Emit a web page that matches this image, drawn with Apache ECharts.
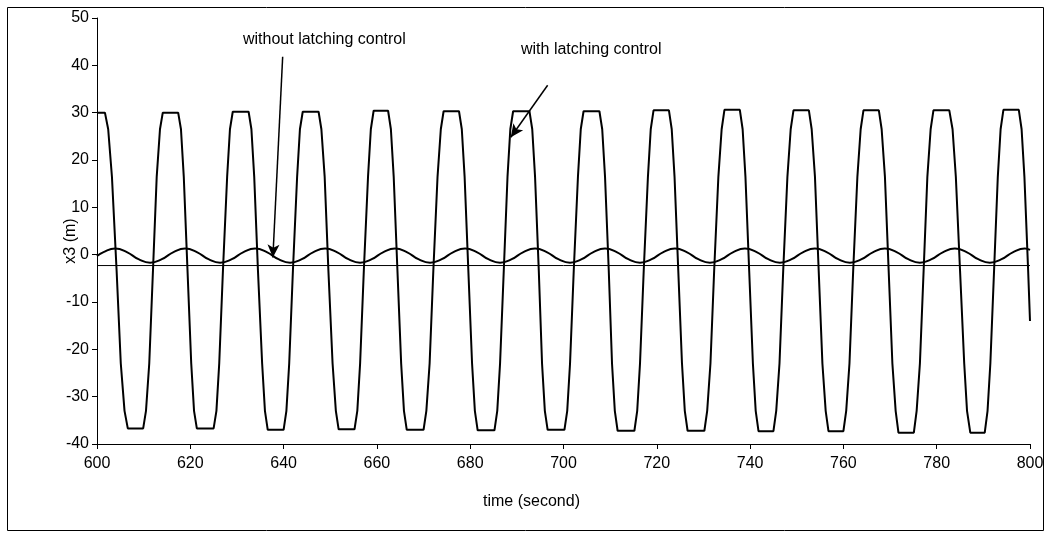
<!DOCTYPE html>
<html>
<head>
<meta charset="utf-8">
<script src="https://cdn.jsdelivr.net/npm/echarts@6/dist/echarts.min.js"></script>
<style>
html,body{margin:0;padding:0;background:#fff;}
#chart{width:1047px;height:535px;}
</style>
</head>
<body>
<div id="chart"></div>
<script>
// x-axis (time, s) and y-axis (x3, m) ranges / ticks
const xTicks = [600, 620, 640, 660, 680, 700, 720, 740, 760, 780, 800];
const yTicks = [-40, -30, -20, -10, 0, 10, 20, 30, 40, 50];

// with latching control: [time, x3]
const withLatching = [
  [600,30],[601.7,30],
  [602.4,26.5],[603.2,16.5],[604.2,-3.3],[605.1,-23],[605.9,-33],
  [606.6,-36.7],[609.9,-36.7],
  [610.5,-33],[611.2,-23],[612.0,-3.3],[612.8,16.5],[613.5,26.5],
  [614.1,30],[617.4,30],
  [618.0,26.5],[618.6,16.5],[619.4,-3.3],[620.2,-23],[620.8,-33],
  [621.4,-36.7],[625.0,-36.7],
  [625.6,-33],[626.2,-23],[627.0,-3.3],[627.9,16.5],[628.5,26.5],
  [629.1,30.2],[632.5,30.2],
  [633.1,26.5],[633.7,16.5],[634.5,-3.3],[635.4,-23],[636.0,-33],
  [636.6,-37.0],[640.0,-37.0],
  [640.6,-33],[641.2,-23],[642.0,-3.3],[642.9,16.5],[643.5,26.5],
  [644.1,30.2],[647.5,30.2],
  [648.1,26.5],[648.8,16.5],[649.6,-3.3],[650.5,-23],[651.2,-33],
  [651.8,-36.9],[655.2,-36.9],
  [655.8,-33],[656.4,-23],[657.2,-3.3],[658.1,16.5],[658.7,26.5],
  [659.3,30.4],[662.4,30.4],
  [663.0,26.5],[663.6,16.5],[664.4,-3.3],[665.2,-23],[665.8,-33],
  [666.4,-37.0],[670.0,-37.0],
  [670.6,-33],[671.3,-23],[672.1,-3.3],[673.0,16.5],[673.7,26.5],
  [674.3,30.3],[677.6,30.3],
  [678.2,26.5],[678.8,16.5],[679.6,-3.3],[680.4,-23],[681.0,-33],
  [681.6,-37.1],[685.2,-37.1],
  [685.8,-33],[686.4,-23],[687.2,-3.3],[688.0,16.5],[688.6,26.5],
  [689.2,30.3],[692.7,30.3],
  [693.3,26.5],[693.9,16.5],[694.7,-3.3],[695.4,-23],[696.0,-33],
  [696.6,-37.0],[700.2,-37.0],
  [700.8,-33],[701.4,-23],[702.2,-3.3],[703.1,16.5],[703.7,26.5],
  [704.3,30.3],[707.7,30.3],
  [708.3,26.5],[708.9,16.5],[709.7,-3.3],[710.4,-23],[711.0,-33],
  [711.6,-37.2],[715.2,-37.2],
  [715.8,-33],[716.4,-23],[717.2,-3.3],[718.1,16.5],[718.7,26.5],
  [719.3,30.5],[722.6,30.5],
  [723.2,26.5],[723.8,16.5],[724.6,-3.3],[725.4,-23],[726.0,-33],
  [726.6,-37.2],[730.2,-37.2],
  [730.8,-33],[731.5,-23],[732.3,-3.3],[733.2,16.5],[733.9,26.5],
  [734.5,30.6],[737.8,30.6],
  [738.4,26.5],[739.0,16.5],[739.8,-3.3],[740.6,-23],[741.2,-33],
  [741.8,-37.3],[745.0,-37.3],
  [745.6,-33],[746.3,-23],[747.1,-3.3],[748.0,16.5],[748.7,26.5],
  [749.3,30.5],[752.6,30.5],
  [753.2,26.5],[753.9,16.5],[754.7,-3.3],[755.5,-23],[756.2,-33],
  [756.8,-37.3],[760.0,-37.3],
  [760.6,-33],[761.3,-23],[762.1,-3.3],[763.0,16.5],[763.7,26.5],
  [764.3,30.5],[767.6,30.5],
  [768.2,26.5],[768.9,16.5],[769.7,-3.3],[770.5,-23],[771.2,-33],
  [771.8,-37.6],[775.1,-37.6],
  [775.7,-33],[776.4,-23],[777.2,-3.3],[778.0,16.5],[778.7,26.5],
  [779.3,30.5],[782.7,30.5],
  [783.4,26.5],[784.1,16.5],[785.0,-3.3],[785.9,-23],[786.5,-33],
  [787.2,-37.6],[790.3,-37.6],
  [790.9,-33],[791.5,-23],[792.3,-3.3],[793.1,16.5],[793.7,26.5],
  [794.3,30.6],[797.6,30.6],
  [798.2,26.5],[798.8,16.5],[799.6,-3.3],[800,-14]
];

// without latching control: [time, x3]
const withoutLatching = [
  [600,-0.3],[601.4,0.55],
  [603.9,1.3],[606.4,0.55],[608.9,-0.95],[611.4,-1.7],[613.9,-0.95],[616.4,0.55],
  [618.9,1.3],[621.4,0.55],[623.9,-0.95],[626.4,-1.7],[628.9,-0.95],[631.4,0.55],
  [633.9,1.3],[636.4,0.55],[638.9,-0.95],[641.4,-1.7],[643.9,-0.95],[646.4,0.55],
  [648.9,1.3],[651.4,0.55],[653.9,-0.95],[656.4,-1.7],[658.9,-0.95],[661.4,0.55],
  [663.9,1.3],[666.4,0.55],[668.9,-0.95],[671.4,-1.7],[673.9,-0.95],[676.4,0.55],
  [678.9,1.3],[681.4,0.55],[683.9,-0.95],[686.4,-1.7],[688.9,-0.95],[691.4,0.55],
  [693.9,1.3],[696.4,0.55],[698.9,-0.95],[701.4,-1.7],[703.9,-0.95],[706.4,0.55],
  [708.9,1.3],[711.4,0.55],[713.9,-0.95],[716.4,-1.7],[718.9,-0.95],[721.4,0.55],
  [723.9,1.3],[726.4,0.55],[728.9,-0.95],[731.4,-1.7],[733.9,-0.95],[736.4,0.55],
  [738.9,1.3],[741.4,0.55],[743.9,-0.95],[746.4,-1.7],[748.9,-0.95],[751.4,0.55],
  [753.9,1.3],[756.4,0.55],[758.9,-0.95],[761.4,-1.7],[763.9,-0.95],[766.4,0.55],
  [768.9,1.3],[771.4,0.55],[773.9,-0.95],[776.4,-1.7],[778.9,-0.95],[781.4,0.55],
  [783.9,1.3],[786.4,0.55],[788.9,-0.95],[791.4,-1.7],[793.9,-0.95],[796.4,0.55],
  [798.9,1.3],[800,1.0]
];

// horizontal reference level
const refLevel = [[600,-2.3],[800,-2.3]];

// annotation arrows: [from, to] in data coordinates
const arrowWithout = [[639.8,41.8],[637.7,-0.6]];
const arrowWith = [[696.6,35.8],[688.7,24.8]];

const FONT = 'Liberation Sans, Arial, sans-serif';
const chart = echarts.init(document.getElementById('chart'), null, {renderer:'canvas'});
chart.setOption({
  animation:false,
  backgroundColor:'#fff',
  grid:{left:97, right:17, top:18, bottom:91, containLabel:false},
  xAxis:{
    type:'value', min:xTicks[0], max:xTicks[xTicks.length-1], interval:20,
    name:'time (second)', nameLocation:'middle', nameGap:50, nameMoveOverlap:false,
    nameTextStyle:{color:'#000', fontFamily:FONT, fontSize:16, padding:[0,64,0,0]},
    axisLine:{show:true, onZero:false, lineStyle:{color:'#000', width:1}},
    axisTick:{show:true, inside:false, length:5, lineStyle:{color:'#000'}},
    axisLabel:{color:'#000', fontFamily:FONT, fontSize:16, margin:12},
    splitLine:{show:false}
  },
  yAxis:{
    type:'value', min:yTicks[0], max:yTicks[yTicks.length-1], interval:10,
    name:'x3 (m)', nameLocation:'middle', nameGap:18, nameRotate:90, nameMoveOverlap:false,
    nameTextStyle:{color:'#000', fontFamily:FONT, fontSize:16, padding:[0,20,0,0]},
    axisLine:{show:true, onZero:false, lineStyle:{color:'#000', width:1}},
    axisTick:{show:true, inside:false, length:5, lineStyle:{color:'#000'}},
    axisLabel:{color:'#000', fontFamily:FONT, fontSize:16, margin:8},
    splitLine:{show:false}
  },
  series:[
    {
      name:'with latching control', type:'line', data:withLatching,
      showSymbol:false, symbol:'none', lineStyle:{color:'#000', width:2},
      z:3
    },
    {
      name:'without latching control', type:'line', data:withoutLatching,
      showSymbol:false, symbol:'none', smooth:true, lineStyle:{color:'#000', width:2},
      z:3
    },
    {
      name:'reference', type:'line', data:refLevel,
      showSymbol:false, symbol:'none', lineStyle:{color:'#000', width:1},
      z:2,
      markLine:{
        silent:true, symbol:['none','arrow'], symbolSize:[9,13],
        label:{show:false},
        lineStyle:{color:'#000', width:1.5, type:'solid'},
        data:[
          [{coord:arrowWithout[0]},{coord:arrowWithout[1]}],
          [{coord:arrowWith[0]},{coord:arrowWith[1]}]
        ]
      }
    }
  ],
  graphic:[
    {type:'rect', left:5, top:5, shape:{width:1036, height:523},
     style:{fill:'none', stroke:'#000', lineWidth:1}, silent:true},
    {type:'text', left:243, top:32, style:{text:'without latching control', fill:'#000', font:'16px '+FONT}},
    {type:'text', left:521, top:42, style:{text:'with latching control', fill:'#000', font:'16px '+FONT}}
  ]
});
</script>
</body>
</html>
